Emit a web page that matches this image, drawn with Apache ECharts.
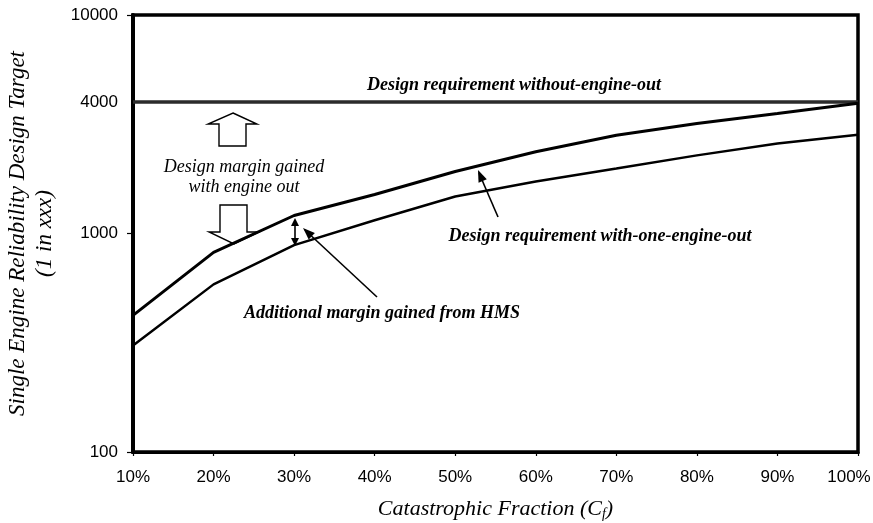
<!DOCTYPE html>
<html>
<head>
<meta charset="utf-8">
<script src="https://cdn.jsdelivr.net/npm/echarts@6/dist/echarts.min.js"></script>
<style>
  html, body { margin: 0; padding: 0; background: #fff; }
  #chart { width: 873px; height: 523px; }
</style>
</head>
<body>
<div id="chart"></div>
<script>
// catastrophic fraction, %
const fractions = [10, 20, 30, 40, 50, 60, 70, 80, 90, 100]
// design requirement with one engine out
const withEngineOut = [422, 820, 1209, 1508, 1922, 2366, 2818, 3184, 3540, 3950]
// with HMS credit
const withHms = [307, 585, 885, 1150, 1476, 1730, 1983, 2278, 2582, 2830]
// design requirement without engine out (flat)
const withoutEngineOut = [4000, 4000, 4000, 4000, 4000, 4000, 4000, 4000, 4000, 4000]
const yLabels = [100, 1000, 4000, 10000]
const yTicks = [100, 1000, 10000]

const serif = '"Liberation Serif", "Times New Roman", serif'
const sans = '"Liberation Sans", Arial, sans-serif'

const chart = echarts.init(document.getElementById('chart'))

function pairs(ys) {
  return fractions.map((x, i) => [x, ys[i]])
}

// small filled arrow head, tip pointing away from tail
function head(tip, tail, len, half) {
  const dx = tip[0] - tail[0]
  const dy = tip[1] - tail[1]
  const l = Math.hypot(dx, dy)
  const ux = dx / l
  const uy = dy / l
  const bx = tip[0] - ux * len
  const by = tip[1] - uy * len
  return {
    type: 'polygon',
    z: 10,
    shape: { points: [tip, [bx - uy * half, by + ux * half], [bx + uy * half, by - ux * half]] },
    style: { fill: '#000' }
  }
}

function line(a, b, w) {
  return {
    type: 'polyline',
    z: 10,
    shape: { points: [a, b] },
    style: { stroke: '#000', lineWidth: w || 1.6, fill: null }
  }
}

function label(text, x, y, bold, size) {
  return {
    type: 'text',
    z: 10,
    x: x,
    y: y,
    style: {
      text: text,
      fill: '#000',
      font: (bold ? 'italic bold ' : 'italic ') + (size || 18) + 'px ' + serif,
      align: 'center',
      verticalAlign: 'middle',
      lineHeight: 20
    }
  }
}

const blockArrowStyle = { fill: '#fff', stroke: '#000', lineWidth: 1.4 }

const graphics = [
  label('Design requirement without-engine-out', 514, 85, true),
  label('Design margin gained\nwith engine out', 244, 177, false, 18),
  label('Additional margin gained from HMS', 382, 313, true),
  label('Design requirement with-one-engine-out', 600, 236, true),
  // hollow up arrow
  {
    type: 'polygon',
    z: 1,
    shape: { points: [[233, 113], [257, 124], [246, 124], [246, 146], [219, 146], [219, 124], [208, 124]] },
    style: blockArrowStyle
  },
  // hollow down arrow
  {
    type: 'polygon',
    z: 1,
    shape: { points: [[220, 205], [247, 205], [247, 232], [259, 232], [234, 244], [209, 232], [220, 232]] },
    style: blockArrowStyle
  },
  // double arrow between the two curves
  line([295, 222], [295, 242], 1.6),
  head([295, 218], [295, 240], 8, 4),
  head([295, 246], [295, 224], 8, 4),
  // pointer to the double arrow
  line([377, 297], [305, 230]),
  head([303, 228], [377, 297], 12, 4.5),
  // pointer to the upper curve
  line([498, 217], [479, 173]),
  head([478, 170], [498, 217], 12, 4.5)
]

const option = {
  backgroundColor: '#fff',
  animation: false,
  grid: {
    left: 133,
    right: 15,
    top: 15,
    bottom: 71,
    containLabel: false,
    outerBoundsMode: 'none',
    show: true,
    borderColor: '#000',
    borderWidth: 3.5
  },
  xAxis: {
    type: 'value',
    min: 10,
    max: 100,
    interval: 10,
    name: '{n|Catastrophic Fraction (C}{s|f}{n|)}',
    nameLocation: 'middle',
    nameGap: 45,
    nameTextStyle: {
      rich: {
        n: { fontFamily: serif, fontStyle: 'italic', fontSize: 22, color: '#000' },
        s: { fontFamily: serif, fontStyle: 'italic', fontSize: 14, color: '#000', padding: [10, 0, 0, 0] }
      }
    },
    axisLine: { lineStyle: { color: '#000', width: 3 } },
    axisTick: { show: true, length: 4, lineStyle: { color: '#000', width: 1.2 } },
    axisLabel: {
      color: '#000',
      fontFamily: sans,
      fontSize: 17,
      margin: 17,
      // last label sits a little inside the right edge
      formatter: (v) => (v === 100 ? '{last|100%}' : v + '%'),
      rich: {
        last: { color: '#000', fontFamily: sans, fontSize: 17, padding: [0, 18, 0, 0] }
      }
    },
    splitLine: { show: false }
  },
  yAxis: {
    type: 'log',
    logBase: 10,
    min: 100,
    max: 10000,
    name: 'Single Engine Reliability Design Target\n(1 in xxx)',
    nameLocation: 'middle',
    nameGap: 75,
    nameTextStyle: {
      fontFamily: serif,
      fontStyle: 'italic',
      fontSize: 23,
      lineHeight: 27,
      color: '#000'
    },
    axisLine: { lineStyle: { color: '#000', width: 4 } },
    axisTick: { show: true, length: 6, customValues: yTicks, lineStyle: { color: '#000', width: 1.2 } },
    axisLabel: {
      color: '#000',
      fontFamily: sans,
      fontSize: 17,
      margin: 15,
      customValues: yLabels,
      formatter: (v) => String(Math.round(v))
    },
    minorTick: { show: false },
    splitLine: { show: false }
  },
  series: [
    {
      name: 'Design requirement without-engine-out',
      type: 'line',
      data: pairs(withoutEngineOut),
      symbol: 'none',
      lineStyle: { color: '#2b2b2b', width: 3.5 },
      z: 3
    },
    {
      name: 'Design requirement with-one-engine-out',
      type: 'line',
      data: pairs(withEngineOut),
      symbol: 'none',
      lineStyle: { color: '#000', width: 3 },
      z: 4
    },
    {
      name: 'With HMS',
      type: 'line',
      data: pairs(withHms),
      symbol: 'none',
      lineStyle: { color: '#000', width: 2.5 },
      z: 4
    }
  ],
  graphic: graphics
}

chart.setOption(option)
</script>
</body>
</html>
